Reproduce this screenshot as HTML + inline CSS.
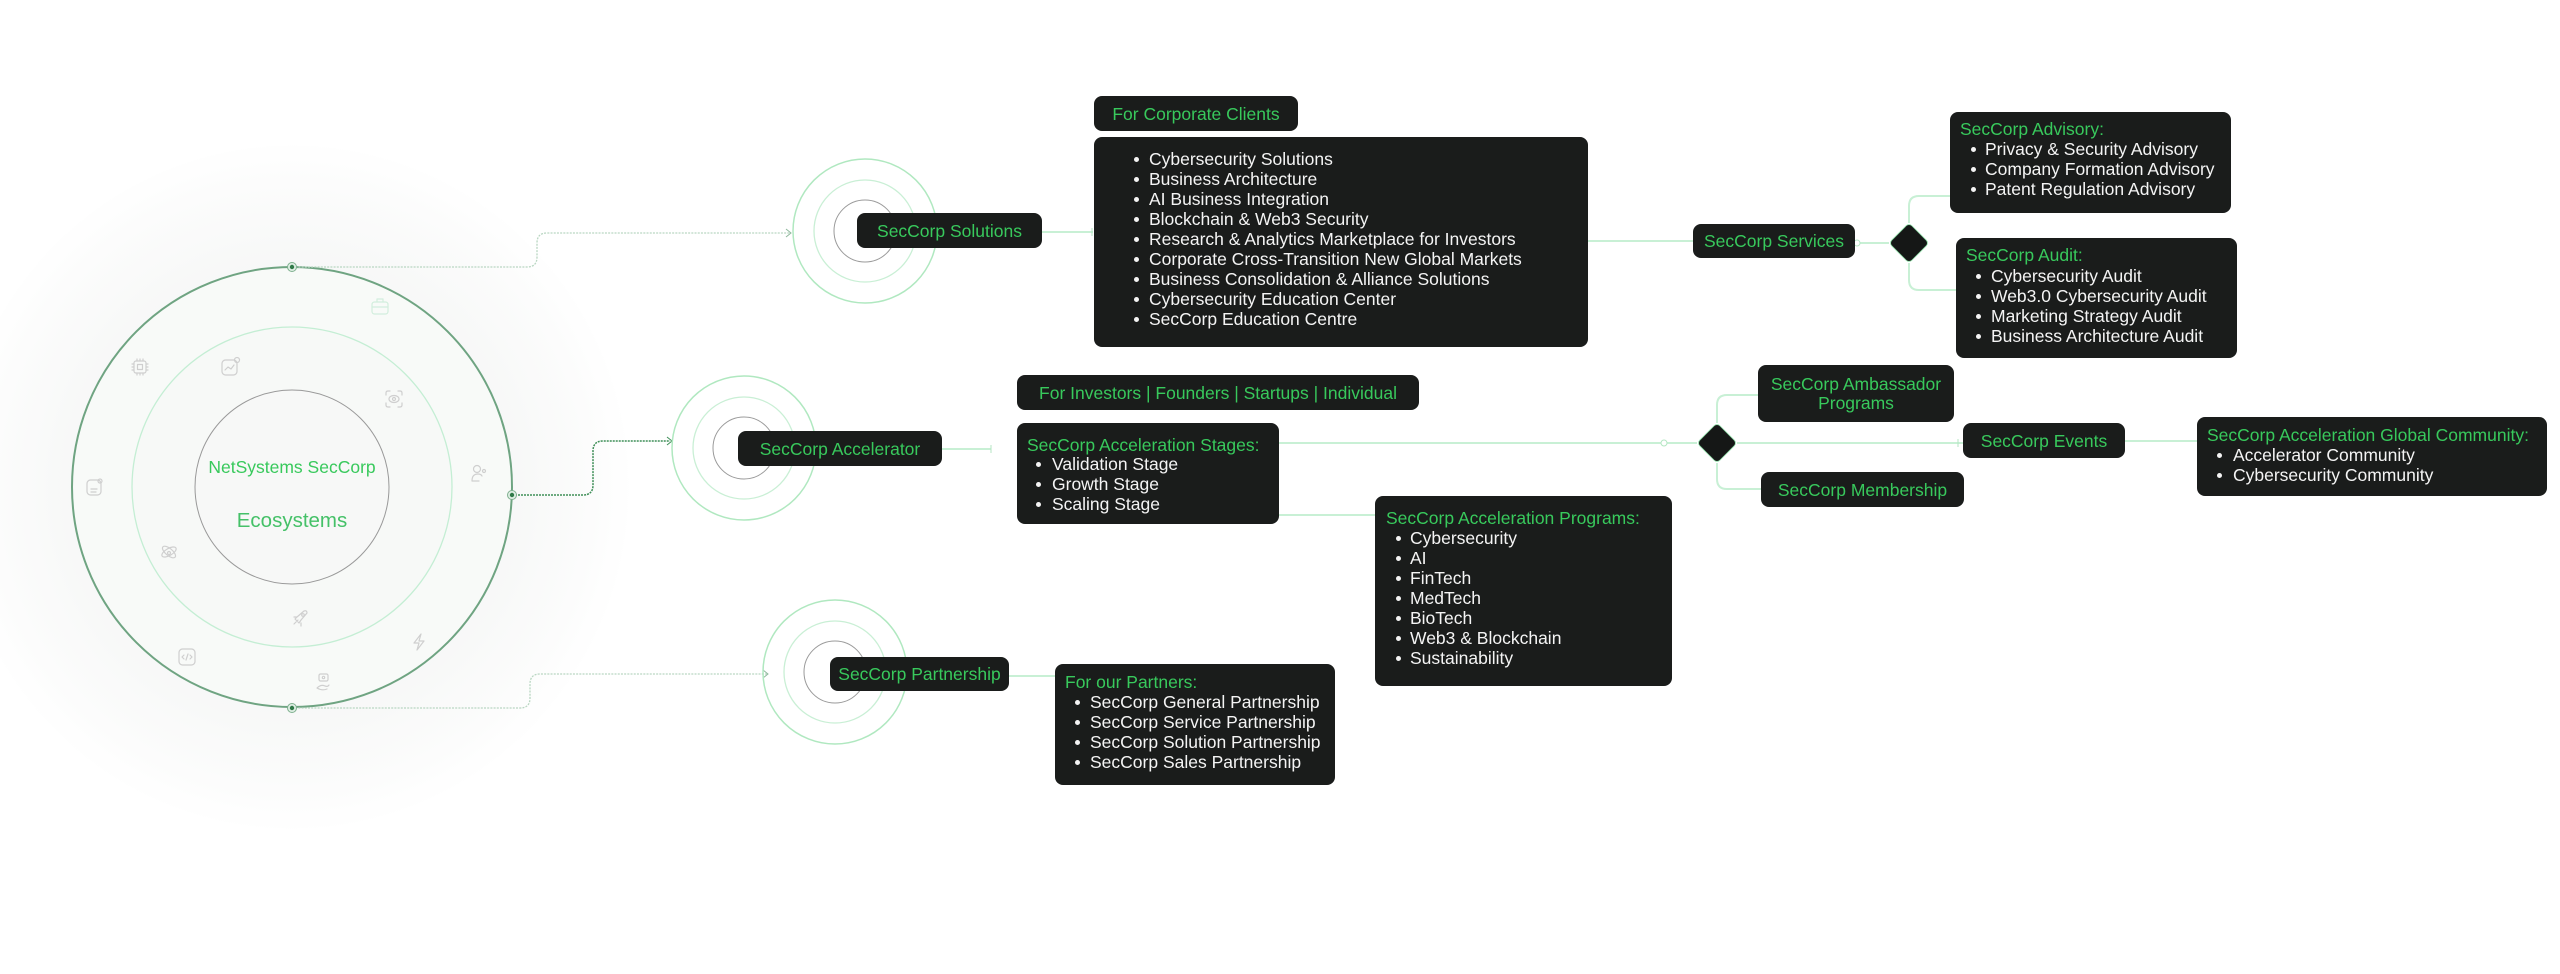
<!DOCTYPE html>
<html><head><meta charset="utf-8">
<style>
html,body{margin:0;padding:0;background:#fff;}
body{width:2560px;height:974px;position:relative;overflow:hidden;font-family:"Liberation Sans",Arial,sans-serif;}
.glow{position:absolute;left:-50px;top:140px;width:684px;height:694px;border-radius:50%;
 background:radial-gradient(closest-side,rgba(60,80,65,0.045) 0%,rgba(60,80,65,0.04) 65%,rgba(60,80,65,0.018) 85%,rgba(60,80,65,0) 100%);}
svg{position:absolute;left:0;top:0;}
.b{position:absolute;background:#1a1c1b;border-radius:8px;color:#f4f4f4;font-size:17.5px;line-height:20px;white-space:nowrap;}
.c{display:flex;align-items:center;justify-content:center;color:#38c95c;}
.t{position:absolute;color:#38c95c;}
.li{position:absolute;}
.li i{position:absolute;width:5px;height:5px;border-radius:50%;background:#f4f4f4;top:8px;}
.ctext{position:absolute;color:#38c95c;white-space:nowrap;}
</style></head><body>
<div class="glow"></div>
<svg width="2560" height="974" viewBox="0 0 2560 974" xmlns="http://www.w3.org/2000/svg">
 <circle cx="292" cy="487" r="220" fill="#f8faf8" stroke="#6fa482" stroke-width="2"/>
 <circle cx="292" cy="487" r="160" fill="#f7f9f7" stroke="#c4eed4" stroke-width="1.3"/>
 <circle cx="292" cy="487" r="97" fill="#f7f8f7" stroke="#999" stroke-width="1"/>
 <path d="M292,267 H527 Q537,267 537,257 V243 Q537,233 547,233 H790" fill="none" stroke="#b9d6c2" stroke-width="1.3" stroke-dasharray="2 1.2"/>
 <path d="M512,495 H583 Q593,495 593,485 V451 Q593,441 603,441 H670" fill="none" stroke="#3f8f58" stroke-width="1.5" stroke-dasharray="2 1"/>
 <path d="M292,708 H520 Q530,708 530,698 V684 Q530,674 540,674 H767" fill="none" stroke="#b9d6c2" stroke-width="1.3" stroke-dasharray="2 1.2"/>
 <path d="M786,229 L791,233 L786,237" fill="none" stroke="#8fb89c" stroke-width="1"/>
 <path d="M667,437 L672,441 L667,445" fill="none" stroke="#3f8f58" stroke-width="1"/>
 <path d="M763,670 L768,674 L763,678" fill="none" stroke="#8fb89c" stroke-width="1"/>
 <circle cx="292" cy="267" r="4.5" fill="#dfeee4" stroke="#7fb08f" stroke-width="1"/><circle cx="292" cy="267" r="2.2" fill="#2f7a48"/>
 <circle cx="512" cy="495" r="4.5" fill="#dfeee4" stroke="#7fb08f" stroke-width="1"/><circle cx="512" cy="495" r="2.2" fill="#2f7a48"/>
 <circle cx="292" cy="708" r="4.5" fill="#dfeee4" stroke="#7fb08f" stroke-width="1"/><circle cx="292" cy="708" r="2.2" fill="#2f7a48"/>
 <g fill="none" stroke="#cfcfcf" stroke-width="1.2" stroke-linecap="round" stroke-linejoin="round">
  <g transform="translate(380,307)" stroke="#d2eedd"><rect x="-8" y="-5" width="16" height="12" rx="2.5"/><path d="M-3,-5 V-8 H3 V-5 M-8,0 H8"/></g>
  <g transform="translate(140,367)"><rect x="-6" y="-6" width="12" height="12" rx="2"/><rect x="-2.5" y="-2.5" width="5" height="5"/><path d="M-3,-8 V-6 M0,-8 V-6 M3,-8 V-6 M-3,6 V8 M0,6 V8 M3,6 V8 M-8,-3 H-6 M-8,0 H-6 M-8,3 H-6 M6,-3 H8 M6,0 H8 M6,3 H8"/></g>
  <g transform="translate(230,367)"><rect x="-8" y="-7" width="15" height="15" rx="3.5"/><circle cx="7" cy="-7" r="2.5"/><path d="M-5,3 L-2,0 L1,2 L4,-2"/></g>
  <g transform="translate(394,399)"><path d="M-8,-4 V-6 Q-8,-8 -6,-8 H-4 M4,-8 H6 Q8,-8 8,-6 V-4 M8,4 V6 Q8,8 6,8 H4 M-4,8 H-6 Q-8,8 -8,6 V4"/><ellipse cx="0" cy="0" rx="5" ry="3.5"/><circle cx="0" cy="0" r="1.5"/></g>
  <g transform="translate(478,473)"><circle cx="-1" cy="-4" r="3.5"/><path d="M-6,8 Q-6,1 0,1 Q3,1 4,3 M-6,8 H1"/><circle cx="6" cy="-2" r="1.5"/></g>
  <g transform="translate(94,487)"><rect x="-7" y="-7" width="14" height="15" rx="3.5"/><path d="M-3,2 H3 M-3,5 H2"/><circle cx="6" cy="-6" r="2"/></g>
  <g transform="translate(169,552)"><ellipse cx="0" cy="0" rx="8" ry="3.5" transform="rotate(-30)"/><ellipse cx="0" cy="0" rx="8" ry="3.5" transform="rotate(40)"/><circle cx="0" cy="1" r="1.5"/></g>
  <g transform="translate(300,618)"><path d="M-6,6 L-2,2 M-3,-1 L4,-7 Q7,-8 7,-5 L1,2 L-1,5 L-5,1 Z M-6,-1 L-3,-1 M1,5 L1,8"/><circle cx="3" cy="-3" r="1.3"/></g>
  <g transform="translate(419,642)"><path d="M2,-8 L-5,1 L0,1 L-2,8 L5,-1 L0,-1 Z"/></g>
  <g transform="translate(187,657)"><rect x="-8" y="-8" width="16" height="16" rx="3.5"/><path d="M-3,-2 L-5,0 L-3,2 M3,-2 L5,0 L3,2 M1,-3 L-1,3"/></g>
  <g transform="translate(323,682)"><rect x="-4" y="-8" width="9" height="7" rx="1.5"/><circle cx="0.5" cy="-4.5" r="1.2"/><path d="M-6,6 Q-2,2 2,4 Q5,5 6,3 M-6,6 Q-1,9 4,7"/></g>
 </g>
 <g fill="none">
  <circle cx="865" cy="231" r="72" stroke="#b0e8c0" stroke-width="1.5"/>
  <circle cx="865" cy="231" r="51" stroke="#c9efd5" stroke-width="1.3"/>
  <circle cx="865" cy="231" r="31" stroke="#9a9a9a" stroke-width="1"/>
  <circle cx="744" cy="448" r="72" stroke="#b0e8c0" stroke-width="1.5"/>
  <circle cx="744" cy="448" r="51" stroke="#c9efd5" stroke-width="1.3"/>
  <circle cx="744" cy="448" r="31" stroke="#9a9a9a" stroke-width="1"/>
  <circle cx="835" cy="672" r="72" stroke="#b0e8c0" stroke-width="1.5"/>
  <circle cx="835" cy="672" r="51" stroke="#c9efd5" stroke-width="1.3"/>
  <circle cx="835" cy="672" r="31" stroke="#9a9a9a" stroke-width="1"/>
 </g>
 <g fill="none" stroke="#c8f0d5" stroke-width="2">
  <path d="M1042,232 H1093"/>
  <path d="M1588,241 H1693"/>
  <path d="M1855,243 H1889"/>
  <path d="M1909,223 V206 Q1909,196 1919,196 H1950"/>
  <path d="M1909,263 V280 Q1909,290 1919,290 H1956"/>
  <path d="M942,449 H991"/>
  <path d="M1279,443 H1697"/>
  <path d="M1717,423 V405 Q1717,395 1727,395 H1758"/>
  <path d="M1717,463 V479 Q1717,489 1727,489 H1761"/>
  <path d="M1737,443 H1963"/>
  <path d="M2125,441 H2197"/>
  <path d="M1279,515 H1375"/>
  <path d="M1009,676 H1055"/>
 </g>
 <g fill="none" stroke="#b4e6c3" stroke-width="1">
  <path d="M1092,228 V236"/><path d="M991,445 V453"/><path d="M1958,439 V447"/>
  <circle cx="1857" cy="243" r="3" fill="#fff"/>
  <circle cx="1664" cy="443" r="3" fill="#fff"/>
 </g>
 <rect x="1894.8" y="228.8" width="28.4" height="28.4" rx="4" transform="rotate(45 1909 243)" fill="#151716" stroke="#8fe0a8" stroke-width="0.8"/>
 <rect x="1702.8" y="428.8" width="28.4" height="28.4" rx="4" transform="rotate(45 1717 443)" fill="#151716" stroke="#8fe0a8" stroke-width="0.8"/>
</svg>

<div class="ctext" style="left:192px;top:456px;width:200px;text-align:center;font-size:17.5px;line-height:22px;">NetSystems SecCorp</div>
<div class="ctext" style="left:192px;top:508px;width:200px;text-align:center;font-size:20.5px;line-height:26px;color:#45c168;">Ecosystems</div>

<div class="b c" style="left:857px;top:213px;width:185px;height:35px;">SecCorp Solutions</div>
<div class="b c" style="left:1094px;top:96px;width:204px;height:35px;">For Corporate Clients</div>
<div class="b" style="left:1094px;top:137px;width:494px;height:210px;">
 <div class="li" style="left:55px;top:12px;"><i style="left:-15px"></i>Cybersecurity Solutions</div>
 <div class="li" style="left:55px;top:32px;"><i style="left:-15px"></i>Business Architecture</div>
 <div class="li" style="left:55px;top:52px;"><i style="left:-15px"></i>AI Business Integration</div>
 <div class="li" style="left:55px;top:72px;"><i style="left:-15px"></i>Blockchain &amp; Web3 Security</div>
 <div class="li" style="left:55px;top:92px;"><i style="left:-15px"></i>Research &amp; Analytics Marketplace for Investors</div>
 <div class="li" style="left:55px;top:112px;"><i style="left:-15px"></i>Corporate Cross-Transition New Global Markets</div>
 <div class="li" style="left:55px;top:132px;"><i style="left:-15px"></i>Business Consolidation &amp; Alliance Solutions</div>
 <div class="li" style="left:55px;top:152px;"><i style="left:-15px"></i>Cybersecurity Education Center</div>
 <div class="li" style="left:55px;top:172px;"><i style="left:-15px"></i>SecCorp Education Centre</div>
</div>
<div class="b c" style="left:1693px;top:224px;width:162px;height:34px;">SecCorp Services</div>
<div class="b" style="left:1950px;top:112px;width:281px;height:101px;">
 <div class="t" style="left:10px;top:7px;">SecCorp Advisory:</div>
 <div class="li" style="left:35px;top:27px;"><i style="left:-14px"></i>Privacy &amp; Security Advisory</div>
 <div class="li" style="left:35px;top:47px;"><i style="left:-14px"></i>Company Formation Advisory</div>
 <div class="li" style="left:35px;top:67px;"><i style="left:-14px"></i>Patent Regulation Advisory</div>
</div>
<div class="b" style="left:1956px;top:238px;width:281px;height:120px;">
 <div class="t" style="left:10px;top:7px;">SecCorp Audit:</div>
 <div class="li" style="left:35px;top:28px;"><i style="left:-15px"></i>Cybersecurity Audit</div>
 <div class="li" style="left:35px;top:48px;"><i style="left:-15px"></i>Web3.0 Cybersecurity Audit</div>
 <div class="li" style="left:35px;top:68px;"><i style="left:-15px"></i>Marketing Strategy Audit</div>
 <div class="li" style="left:35px;top:88px;"><i style="left:-15px"></i>Business Architecture Audit</div>
</div>

<div class="b c" style="left:738px;top:431px;width:204px;height:35px;">SecCorp Accelerator</div>
<div class="b c" style="left:1017px;top:375px;width:402px;height:35px;">For Investors | Founders | Startups | Individual</div>
<div class="b" style="left:1017px;top:423px;width:262px;height:101px;">
 <div class="t" style="left:10px;top:12px;">SecCorp Acceleration Stages:</div>
 <div class="li" style="left:35px;top:31px;"><i style="left:-16px"></i>Validation Stage</div>
 <div class="li" style="left:35px;top:51px;"><i style="left:-16px"></i>Growth Stage</div>
 <div class="li" style="left:35px;top:71px;"><i style="left:-16px"></i>Scaling Stage</div>
</div>
<div class="b" style="left:1375px;top:496px;width:297px;height:190px;">
 <div class="t" style="left:11px;top:12px;">SecCorp Acceleration Programs:</div>
 <div class="li" style="left:35px;top:32px;"><i style="left:-14px"></i>Cybersecurity</div>
 <div class="li" style="left:35px;top:52px;"><i style="left:-14px"></i>AI</div>
 <div class="li" style="left:35px;top:72px;"><i style="left:-14px"></i>FinTech</div>
 <div class="li" style="left:35px;top:92px;"><i style="left:-14px"></i>MedTech</div>
 <div class="li" style="left:35px;top:112px;"><i style="left:-14px"></i>BioTech</div>
 <div class="li" style="left:35px;top:132px;"><i style="left:-14px"></i>Web3 &amp; Blockchain</div>
 <div class="li" style="left:35px;top:152px;"><i style="left:-14px"></i>Sustainability</div>
</div>
<div class="b c" style="left:1758px;top:365px;width:196px;height:57px;flex-direction:column;line-height:19px;"><span>SecCorp Ambassador</span><span>Programs</span></div>
<div class="b c" style="left:1963px;top:423px;width:162px;height:35px;">SecCorp Events</div>
<div class="b c" style="left:1761px;top:472px;width:203px;height:35px;">SecCorp Membership</div>
<div class="b" style="left:2197px;top:417px;width:350px;height:79px;">
 <div class="t" style="left:10px;top:8px;">SecCorp Acceleration Global Community:</div>
 <div class="li" style="left:36px;top:28px;"><i style="left:-16px"></i>Accelerator Community</div>
 <div class="li" style="left:36px;top:48px;"><i style="left:-16px"></i>Cybersecurity Community</div>
</div>

<div class="b c" style="left:830px;top:657px;width:179px;height:34px;">SecCorp Partnership</div>
<div class="b" style="left:1055px;top:664px;width:280px;height:121px;">
 <div class="t" style="left:10px;top:8px;">For our Partners:</div>
 <div class="li" style="left:35px;top:28px;"><i style="left:-15px"></i>SecCorp General Partnership</div>
 <div class="li" style="left:35px;top:48px;"><i style="left:-15px"></i>SecCorp Service Partnership</div>
 <div class="li" style="left:35px;top:68px;"><i style="left:-15px"></i>SecCorp Solution Partnership</div>
 <div class="li" style="left:35px;top:88px;"><i style="left:-15px"></i>SecCorp Sales Partnership</div>
</div>
</body></html>
